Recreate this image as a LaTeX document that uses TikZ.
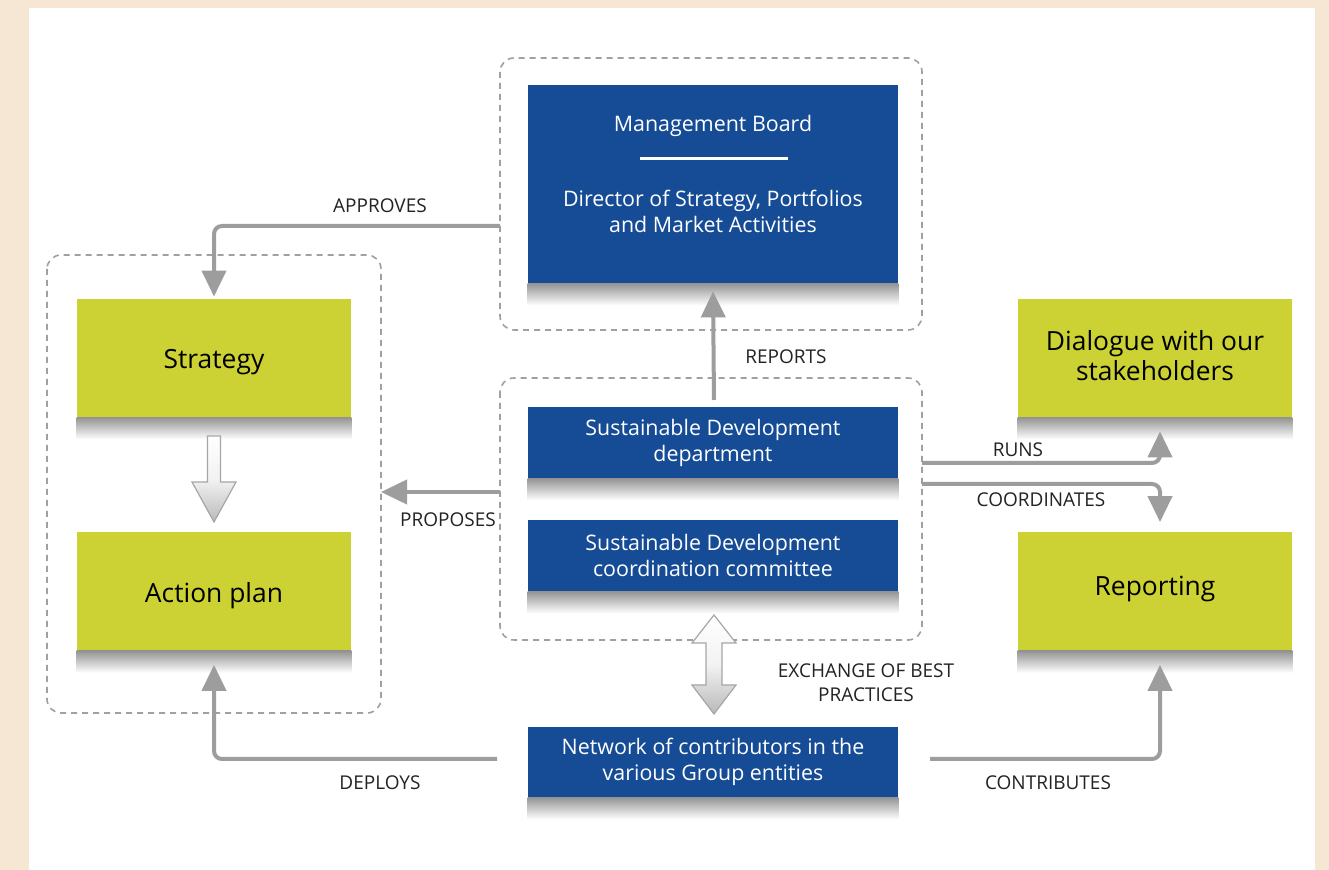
\documentclass[tikz,border=0pt]{standalone}
\usepackage{fontspec}
\setmainfont{Open Sans}
\usetikzlibrary{arrows.meta,positioning}
\definecolor{beige}{RGB}{246,231,213}
\definecolor{sdblue}{RGB}{22,76,150}
\definecolor{lime}{RGB}{204,210,51}
\definecolor{arrowgray}{RGB}{157,157,157}
\definecolor{dashgray}{RGB}{160,160,160}
\definecolor{labelcol}{RGB}{35,35,35}
\tikzset{
  bluebox/.style={fill=sdblue, text=white, inner sep=0pt, align=center, font=\fontsize{10.7}{13}\selectfont},
  greenbox/.style={fill=lime, inner sep=0pt, minimum width=137pt, minimum height=59pt},
  greentext/.style={text=black, inner sep=0pt, align=center, font=\fontsize{13.2}{15}\selectfont},
  groupbox/.style={draw=dashgray, dashed, line width=0.8pt, rounded corners=7pt, dash pattern=on 3pt off 2.5pt},
  conn/.style={draw=arrowgray, line width=2pt, rounded corners=4pt, -{Triangle[width=12pt,length=13pt]}},
  lbl/.style={text=labelcol, inner sep=0pt, align=center, font=\fontsize{9.5}{12}\selectfont},
  hollow/.style={draw=gray!70, line width=0.6pt, top color=white, bottom color=gray!55, middle color=gray!10},
}
\newcommand{\boxshadow}[1]{\shade[top color=black!42, bottom color=white, draw=none] ([yshift=0pt]#1.south west) rectangle ([yshift=-11pt]#1.south east);}
\begin{document}
\begin{tikzpicture}[x=0.5pt,y=-0.5pt]
% background
\fill[beige] (0,0) rectangle (1329,870);
\fill[white] (29,8) rectangle (1315,870);
\useasboundingbox (0,0) rectangle (1329,870);

% group frames
\draw[groupbox] (500,58) rectangle (922,330);
\draw[groupbox] (47,255) rectangle (381,713);
\draw[groupbox] (500,378) rectangle (922,640);

% blue boxes
\node[bluebox, minimum width=185pt, minimum height=99pt] (mb) at (713,184) {};
\node[text=white, font=\fontsize{10.7}{13}\selectfont, inner sep=0pt] (mbt) at (713,126) {Management Board};
\node[text=white, align=center, font=\fontsize{10.7}{13}\selectfont, inner sep=0pt] (mbd) at (713,211) {Director of Strategy, Portfolios\\and Market Activities};
\draw[white, line width=1.5pt] (640,159) -- (788,159);

\node[bluebox, minimum width=185pt, minimum height=35.5pt] (sdd) at (713,442.5) {Sustainable Development\\department};
\node[bluebox, minimum width=185pt, minimum height=35.5pt] (sdc) at (713,555.5) {Sustainable Development\\coordination committee};
\node[bluebox, minimum width=185pt, minimum height=35pt] (net) at (713,762) {Network of contributors in the\\various Group entities};

% green boxes
\node[greenbox] (str) at (214,358) {};
\node[greenbox] (act) at (214,591.5) {};
\node[greenbox] (dia) at (1155,358) {};
\node[greenbox] (rep) at (1155,591.5) {};
\node[greentext] (strt) at (214,362) {Strategy};
\node[greentext] (actt) at (214,596) {Action plan};
\node[greentext] (diat) at (1155,356) {Dialogue with our\\stakeholders};
\node[greentext] (rept) at (1155,589) {Reporting};

% shadows
\boxshadow{mb}
\boxshadow{sdd}
\boxshadow{sdc}
\boxshadow{net}
\boxshadow{str}
\boxshadow{act}
\boxshadow{dia}
\boxshadow{rep}

% hollow arrows
\draw[hollow] (207.5,436) -- (220.5,436) -- (220.5,482) -- (236,482) -- (214,522) -- (192,482) -- (207.5,482) -- cycle;
\draw[hollow] (714,615) -- (736,643) -- (722,643) -- (722,685) -- (736,685) -- (714,714) -- (692,685) -- (706,685) -- (706,643) -- (692,643) -- cycle;

% connectors
\coordinate (apS) at (500,226);
\coordinate (prS) at (500,492);
\coordinate (dpS) at (497,759);
\coordinate (ctS) at (930,759);
\coordinate (ruS) at (922,463);
\coordinate (coS) at (922,484);
\coordinate (rpS) at (714,400);

\draw[conn] (apS) -- (214,226) -- ([yshift=1pt]str.north -| 214,0);
\draw[conn] (rpS) -- ([yshift=-4pt]mb.south);
\draw[conn] (prS) -- (381,492);
\draw[conn] (dpS) -- (214,759) -- ([yshift=-7pt]act.south);
\draw[conn] (ctS) -- (1160,759) -- ([yshift=-7pt]rep.south -| 1160,0);
\draw[conn] (ruS) -- (1160,463) -- ([yshift=-7pt]dia.south -| 1160,0);
\draw[conn] (coS) -- (1160,484) -- ([yshift=5pt]rep.north -| 1160,0);

% labels
\node[lbl] (lap) at (380,206) {APPROVES};
\node[lbl] (lrp) at (786,357) {REPORTS};
\node[lbl] (lpr) at (448,520) {PROPOSES};
\node[lbl] (lru) at (1018,450) {RUNS};
\node[lbl] (lco) at (1041,500) {COORDINATES};
\node[lbl] (lex) at (866,683) {EXCHANGE OF BEST\\PRACTICES};
\node[lbl] (ldp) at (380,783) {DEPLOYS};
\node[lbl] (lct) at (1048,783) {CONTRIBUTES};
\end{tikzpicture}
\end{document}
